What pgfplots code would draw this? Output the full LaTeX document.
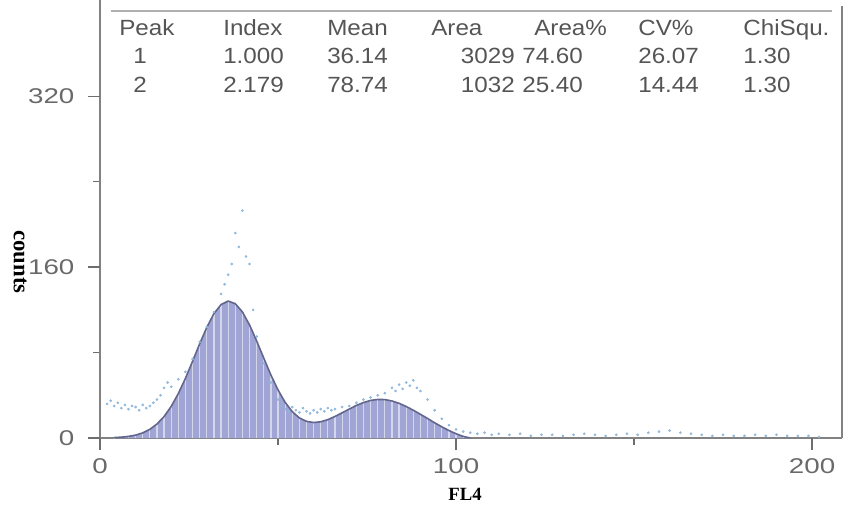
\documentclass[border=0pt]{standalone}
\usepackage{pgfplots}
\pgfplotsset{compat=1.18}
\usepackage{pgfplotstable}
\usepackage{fontspec}
\setmainfont{Liberation Sans}
\newfontfamily\tickfont[FakeStretch=1.3]{Liberation Sans}
\newfontfamily\tabfont[FakeStretch=1.1]{Liberation Sans}
\newfontfamily\labfont{Liberation Serif}
\definecolor{fillc}{RGB}{160,165,213}
\definecolor{curvec}{RGB}{98,102,140}
\definecolor{dotc}{RGB}{140,182,218}
\definecolor{axisc}{RGB}{130,130,130}
\definecolor{tickln}{RGB}{110,110,110}
\definecolor{topc}{RGB}{175,175,175}
\definecolor{tickc}{RGB}{105,105,105}
\definecolor{tabc}{RGB}{85,85,85}
\tikzset{tab/.style={inner sep=0pt, font=\tabfont\fontsize{16.5}{16.5}\selectfont, text=tabc}}

\pgfplotstableread{
x y
4 0.4
6 0.8
8 1.5
10 2.7
12 4.8
14 8.1
16 13.1
18 20.1
20 29.6
22 41.6
24 55.9
26 71.9
28 88.3
30 103.7
32 116.5
34 125.0
36 128.3
38 125.8
40 118.1
42 105.9
44 90.9
46 74.8
48 59.0
50 45.0
52 33.4
54 24.7
56 18.8
58 15.6
60 14.5
62 15.2
64 17.2
66 20.2
68 23.6
70 27.1
72 30.5
74 33.2
76 35.2
78 36.1
80 36.0
82 34.7
84 32.5
86 29.5
88 26.0
90 22.2
92 18.3
94 14.2
96 10.5
98 7.0
100 4.0
102 1.5
104 0
}\fitdata

\pgfplotstableread{
x y
2 32
3 35
4 30
5 33
6 28
7 31
8 27
9 30
10 29
11 26
12 31
13 28
14 30
15 33
16 36
17 40
18 47
19 52
20 48
22 55
24 62
26 74
28 90
30 104
32 118
34 135
35 144
36 153
37 163
38 192
39 179
40 213
41 170
42 163
43 120
44 95
46 70
48 52
50 36
51 30
52 27
53 25
54 29
55 26
56 24
57 28
58 25
59 23
60 26
61 24
62 27
63 25
64 28
65 26
66 27
68 29
70 30
72 33
74 36
76 38
78 40
80 42
82 47
83 44
84 50
85 46
86 52
87 49
88 54
89 47
90 44
92 36
94 26
96 18
98 12
100 8
102 6
104 5
106 4
108 5
110 3
112 4
115 3
118 4
121 2
124 3
127 3
130 2
133 3
136 4
139 3
142 2
145 3
148 4
151 3
154 5
157 6
160 7
163 5
166 4
169 3
172 2
175 3
178 2
181 2
184 3
187 2
190 3
193 2
196 2
199 2
202 1
}\rawdata

\begin{document}
\begin{tikzpicture}
\useasboundingbox (-75pt,-54pt) rectangle (561pt,328.5pt);
\begin{axis}[
  at={(0,0)}, anchor=south west, scale only axis,
  width=556.5pt, height=320.25pt,
  xmin=0, xmax=208.4, ymin=0, ymax=400,
  clip=false,
  axis x line*=bottom, axis y line*=left,
  axis line style={draw=axisc, line width=1pt, -},
  xtick={0,100,200}, ytick={0,160,320},
  minor xtick={50,150}, minor ytick={80,240},
  tick align=outside, major tick length=9pt, minor tick length=5pt,
  major tick style={draw=tickln, line width=1.3pt},
  minor tick style={draw=tickln, line width=1pt},
  /pgf/number format/assume math mode=true,
  ticklabel style={font=\tickfont\fontsize{16}{16}\selectfont, text=tickc},
  yticklabel style={anchor=east, inner sep=0pt, xshift=-10pt},
  xticklabel style={anchor=north, inner sep=0pt, yshift=-6.25pt},
  xlabel={FL4},
  xlabel style={at={(axis description cs:0.4919,0)}, anchor=base, yshift=-46.5pt, font=\labfont\bfseries\fontsize{14}{14}\selectfont, text=black},
  ylabel={counts},
  ylabel style={at={(axis description cs:-0.1078,0.4122)}, anchor=center, rotate=180, font=\labfont\bfseries\fontsize{17}{17}\selectfont, text=black},
]
% frame lines
\draw[topc, line width=2pt] (axis cs:3,400) -- (axis cs:205.5,400);
\draw[axisc, line width=0.8pt] (axis cs:208.4,0) -- (axis cs:208.4,405);
\draw[axisc, line width=1pt] (axis cs:0,400) -- (axis cs:0,410);
% major ticks
\draw[tickln, line width=1.3pt] (axis cs:0,0) -- ([xshift=-9pt]axis cs:0,0);
\draw[tickln, line width=1.3pt] (axis cs:0,160) -- ([xshift=-9pt]axis cs:0,160);
\draw[tickln, line width=1.3pt] (axis cs:0,320) -- ([xshift=-9pt]axis cs:0,320);
\draw[tickln, line width=1.3pt] (axis cs:0,0) -- ([yshift=-8pt]axis cs:0,0);
\draw[tickln, line width=1.3pt] (axis cs:100,0) -- ([yshift=-8pt]axis cs:100,0);
\draw[tickln, line width=1.3pt] (axis cs:200,0) -- ([yshift=-8pt]axis cs:200,0);
% raw data
\addplot[dotc, only marks, mark=*, mark size=0.8pt, mark options={draw=none, fill=dotc, fill opacity=0.8}] table[x=x, y=y] {\rawdata};
% fitted fill
\addplot[fill=fillc, draw=none] table[x=x, y=y] {\fitdata} \closedcycle;
\addplot[ycomb, white, line width=0.9pt, opacity=0.55, no markers] table[x=x, y=y] {\fitdata};
\addplot[curvec, line width=1.2pt, line join=round, no markers] table[x=x, y=y] {\fitdata};
% table
\node[tab, anchor=base west] at (axis cs:5.34,377.1) {Peak};
\node[tab, anchor=base west] at (axis cs:34.55,377.1) {Index};
\node[tab, anchor=base west] at (axis cs:63.76,377.1) {Mean};
\node[tab, anchor=base west] at (axis cs:92.98,377.1) {Area};
\node[tab, anchor=base west] at (axis cs:121.91,377.1) {Area\%};
\node[tab, anchor=base west] at (axis cs:151.12,377.1) {CV\%};
\node[tab, anchor=base west] at (axis cs:180.62,377.1) {ChiSqu.};
\node[tab, anchor=base west] at (axis cs:9.27,350.9) {1};
\node[tab, anchor=base west] at (axis cs:34.55,350.9) {1.000};
\node[tab, anchor=base west] at (axis cs:63.76,350.9) {36.14};
\node[tab, anchor=base east] at (axis cs:116.57,350.9) {3029};
\node[tab, anchor=base west] at (axis cs:118.54,350.9) {74.60};
\node[tab, anchor=base west] at (axis cs:151.12,350.9) {26.07};
\node[tab, anchor=base west] at (axis cs:180.62,350.9) {1.30};
\node[tab, anchor=base west] at (axis cs:9.27,323.7) {2};
\node[tab, anchor=base west] at (axis cs:34.55,323.7) {2.179};
\node[tab, anchor=base west] at (axis cs:63.76,323.7) {78.74};
\node[tab, anchor=base east] at (axis cs:116.57,323.7) {1032};
\node[tab, anchor=base west] at (axis cs:118.54,323.7) {25.40};
\node[tab, anchor=base west] at (axis cs:151.12,323.7) {14.44};
\node[tab, anchor=base west] at (axis cs:180.62,323.7) {1.30};
\end{axis}
\end{tikzpicture}
\end{document}
